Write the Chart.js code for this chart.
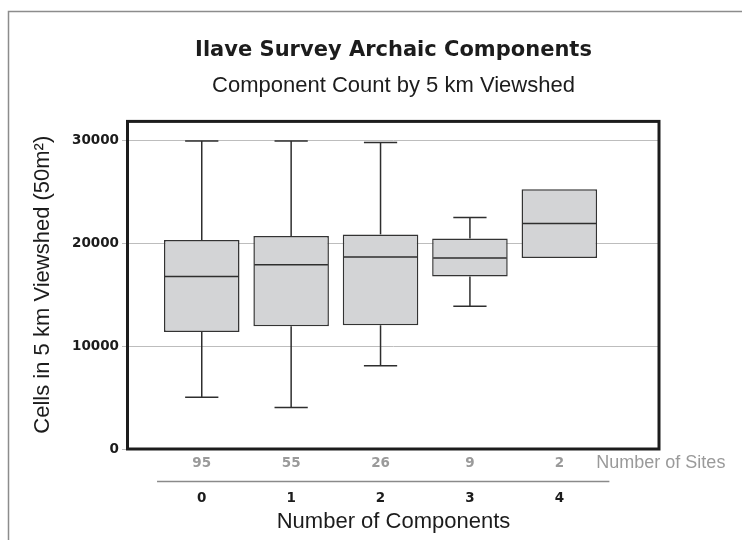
<!DOCTYPE html>
<html>
<head>
<meta charset="utf-8">
<script src="https://cdn.jsdelivr.net/npm/chart.js@4/dist/chart.umd.min.js"></script>
<style>
  html, body { margin: 0; padding: 0; background: #fff; }
  canvas { display: block; }
</style>
</head>
<body>
<canvas id="chart-viewshed" width="742" height="540"></canvas>
<script>
// ===== Data =====
const categories = [0, 1, 2, 3, 4];
const siteCounts = [95, 55, 26, 9, 2];
const whiskerLow = [5050, 4050, 8100, 13900, null];
const q1 = [11400, 11950, 12050, 16800, 18600];
const medians = [16800, 17950, 18700, 18600, 21950];
const q3 = [20350, 20750, 20900, 20500, 25300];
const whiskerHigh = [30000, 30000, 29850, 22550, null];
const yTicks = [0, 10000, 20000, 30000];

const INK = '#1c1c1c';
const MUTED = '#9a9a9a';
const SANS = '"Liberation Sans", Arial, sans-serif';
const HEAVY = '"DejaVu Sans", sans-serif';

Chart.defaults.font.family = SANS;
Chart.defaults.color = INK;

function strokeLine(ctx, x1, y1, x2, y2) {
  ctx.beginPath();
  ctx.moveTo(x1, y1);
  ctx.lineTo(x2, y2);
  ctx.stroke();
}

// whiskers, caps, medians + frames and the "Number of Sites" row
const boxParts = {
  id: 'boxParts',
  afterDatasetsDraw(chart) {
    const { ctx, scales: { y } } = chart;
    const meta = chart.getDatasetMeta(0);
    ctx.save();
    ctx.strokeStyle = '#2e2e2e';
    ctx.lineWidth = 1.5;
    meta.data.forEach((bar, i) => {
      const half = bar.width / 2;
      const cap = bar.width * 0.22;
      const ym = y.getPixelForValue(medians[i]);
      strokeLine(ctx, bar.x - half + 1, ym, bar.x + half - 1, ym);
      if (whiskerHigh[i] != null) {
        const yt = y.getPixelForValue(whiskerHigh[i]);
        strokeLine(ctx, bar.x, y.getPixelForValue(q3[i]), bar.x, yt);
        strokeLine(ctx, bar.x - cap, yt, bar.x + cap, yt);
      }
      if (whiskerLow[i] != null) {
        const yb = y.getPixelForValue(whiskerLow[i]);
        strokeLine(ctx, bar.x, y.getPixelForValue(q1[i]), bar.x, yb);
        strokeLine(ctx, bar.x - cap, yb, bar.x + cap, yb);
      }
    });
    ctx.restore();
  },
  afterDraw(chart) {
    const { ctx, chartArea: a, scales: { x } } = chart;
    ctx.save();
    // plot frame
    ctx.strokeStyle = INK;
    ctx.lineWidth = 3;
    ctx.strokeRect(a.left - 0.5, a.top + 1, a.right - a.left + 0.5, a.bottom - a.top - 1);
    // outer frame
    ctx.strokeStyle = '#8c8c8c';
    ctx.lineWidth = 1.5;
    ctx.strokeRect(8.5, 11.5, chart.width + 20, chart.height + 20);
    // number of sites row
    const rowY = a.bottom + 14.5;
    ctx.fillStyle = MUTED;
    ctx.textBaseline = 'middle';
    ctx.textAlign = 'center';
    ctx.font = 'bold 13.5px ' + HEAVY;
    categories.forEach((c, i) => {
      ctx.fillText(String(siteCounts[i]), x.getPixelForValue(c), rowY);
    });
    ctx.textAlign = 'left';
    ctx.font = '18px ' + SANS;
    ctx.fillText('Number of Sites', x.getPixelForValue(4) + 37, rowY);
    // separator
    ctx.strokeStyle = '#8a8a8a';
    ctx.lineWidth = 1.5;
    strokeLine(ctx, x.getPixelForValue(-0.5), a.bottom + 32.5, x.getPixelForValue(4.56), a.bottom + 32.5);
    ctx.restore();
  }
};

const ctxV = document.getElementById('chart-viewshed');
new Chart(ctxV, {
  type: 'bar',
  data: {
    datasets: [{
      label: 'Cells in 5 km Viewshed',
      data: categories.map((c, i) => ({ x: c, y: [q1[i], q3[i]] })),
      backgroundColor: '#d3d4d6',
      borderColor: '#333333',
      borderWidth: 1.5,
      borderSkipped: false,
      barPercentage: 0.845,
      categoryPercentage: 1
    }]
  },
  options: {
    responsive: false,
    animation: false,
    devicePixelRatio: 1,
    layout: { padding: { top: 38, right: 83, bottom: 0, left: 0 } },
    plugins: {
      legend: { display: false },
      tooltip: { enabled: false },
      title: {
        display: true,
        fullSize: false,
        text: 'Ilave Survey Archaic Components',
        color: INK,
        font: { family: HEAVY, weight: 'bold', size: 21 },
        padding: { top: 0, bottom: 10 }
      },
      subtitle: {
        display: true,
        fullSize: false,
        text: 'Component Count by 5 km Viewshed',
        color: INK,
        font: { family: SANS, size: 22 },
        padding: { top: 0, bottom: 20.8 }
      }
    },
    scales: {
      x: {
        type: 'linear',
        offset: false,
        min: -0.825,
        max: 5.115,
        afterBuildTicks: (scale) => { scale.ticks = categories.map((v) => ({ value: v })); },
        afterFit: (scale) => { scale.height = 91; },
        grid: { display: false, drawTicks: false },
        border: { display: false },
        ticks: { color: INK, padding: 41.2, font: { family: HEAVY, weight: 'bold', size: 13.5 }, callback: (v) => String(v) },
        title: { display: true, text: 'Number of Components', color: INK, font: { size: 22 }, padding: { top: 0, bottom: 5.3 } }
      },
      y: {
        min: 0,
        max: 32000,
        afterBuildTicks: (scale) => { scale.ticks = yTicks.map((v) => ({ value: v })); },
        afterFit: (scale) => { scale.width = 128; },
        grid: { color: '#bdbdbd', lineWidth: 1, tickLength: 6 },
        border: { display: false },
        ticks: { color: INK, padding: 3, font: { family: HEAVY, weight: 'bold', size: 13.5 }, callback: (v) => String(v) },
        title: { display: true, text: 'Cells in 5 km Viewshed (50m²)', color: INK, font: { size: 22 }, padding: { top: 30, bottom: 0 } }
      }
    }
  },
  plugins: [boxParts]
});
</script>
</body>
</html>
